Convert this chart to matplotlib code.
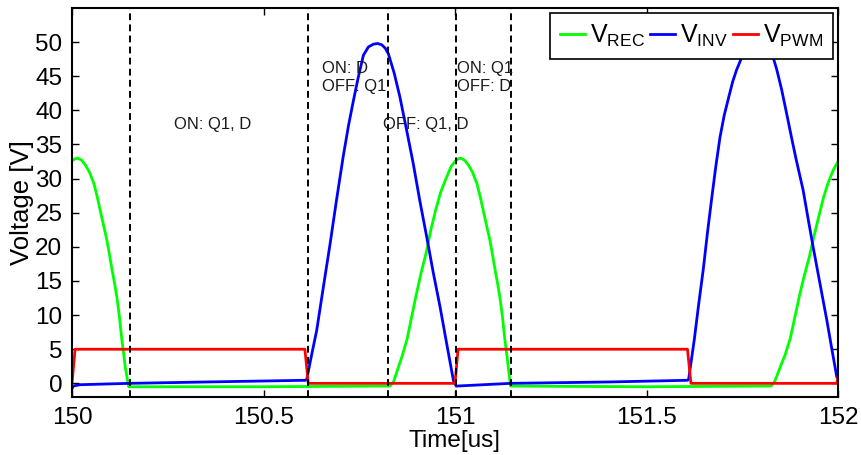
import matplotlib
matplotlib.use('Agg')
import matplotlib.pyplot as plt

plt.rcParams['font.family'] = ['Liberation Sans', 'DejaVu Sans']
plt.rcParams['mathtext.fontset'] = 'custom'
plt.rcParams['mathtext.rm'] = 'Liberation Sans'

# rectified voltage (green)
t_rec = [150.0, 150.008, 150.015, 150.025, 150.035, 150.046, 150.057, 150.066, 150.075, 150.083,
         150.091, 150.098, 150.105, 150.111, 150.117, 150.124, 150.13, 150.135, 150.139, 150.148,
         150.5, 150.8, 150.83, 150.84, 150.85, 150.862, 150.875, 150.887, 150.9, 150.912, 150.925,
         150.937, 150.95, 150.962, 150.975, 150.99, 151.0, 151.008, 151.015, 151.025, 151.035,
         151.046, 151.057, 151.066, 151.075, 151.083, 151.091, 151.098, 151.105, 151.111, 151.117,
         151.124, 151.13, 151.135, 151.139, 151.145,
         151.5, 151.8, 151.825, 151.835, 151.85, 151.862, 151.875, 151.887, 151.9, 151.912,
         151.925, 151.937, 151.95, 151.962, 151.975, 151.988, 152.0]
v_rec = [32.6, 32.9, 33.0, 32.7, 32.0, 30.9, 29.3, 27.3, 25.0, 23.0,
         21.0, 18.8, 16.5, 14.7, 12.7, 9.7, 6.5, 4.3, 2.4, -0.5,
         -0.5, -0.4, -0.4, 0.3, 2.0, 4.0, 6.5, 9.8, 13.3, 16.3, 19.2,
         22.5, 25.5, 27.9, 29.8, 31.8, 32.5, 32.9, 33.0, 32.7, 32.0,
         30.9, 29.3, 27.3, 25.0, 23.0, 21.0, 18.8, 16.5, 14.7, 12.7,
         9.7, 6.5, 4.3, 2.4, -0.4,
         -0.5, -0.4, -0.4, 0.3, 2.5, 4.2, 6.5, 9.6, 13.0, 15.8,
         18.5, 21.5, 24.5, 27.2, 29.5, 31.3, 32.5]

# inverter voltage (blue)
t_inv = [150.0, 150.003, 150.02, 150.15, 150.4, 150.61, 150.613, 150.625, 150.639, 150.656, 150.674,
         150.691, 150.708, 150.722, 150.735, 150.748, 150.761, 150.774, 150.787, 150.798, 150.809,
         150.818, 150.826, 150.841, 150.856, 150.873, 150.891, 150.908, 150.926, 150.943, 150.961,
         150.978, 150.996, 151.003,
         151.145, 151.4, 151.607, 151.61, 151.625, 151.636, 151.648, 151.659, 151.67, 151.681,
         151.692, 151.703, 151.715, 151.725, 151.735, 151.746, 151.757, 151.768, 151.78, 151.79,
         151.80, 151.81, 151.82, 151.83, 151.84, 151.853, 151.866, 151.878, 151.89, 151.909,
         151.922, 151.935, 151.945, 151.955, 151.963, 151.971, 151.984, 151.997, 152.0]
v_inv = [-0.8, -0.4, -0.2, 0.0, 0.25, 0.45, 0.6, 4.0, 7.8, 14.0, 20.5,
         27.0, 33.2, 37.8, 41.5, 45.0, 48.1, 49.3, 49.7, 49.8, 49.6,
         49.1, 48.3, 45.5, 42.0, 37.3, 32.2, 26.8, 21.5, 16.3, 11.2,
         5.9, 0.4, -0.4,
         0.0, 0.2, 0.45, 0.6, 6.5, 11.5, 16.6, 22.0, 27.0, 31.8,
         36.1, 39.3, 42.0, 44.2, 45.9, 47.4, 48.5, 49.5, 50.2, 50.5,
         50.4, 50.0, 49.2, 47.9, 46.0, 43.0, 39.5, 36.2, 33.0, 28.3,
         24.1, 20.0, 17.0, 14.0, 11.6, 9.2, 5.0, 0.9, 0.8]

# PWM signal (red)
t_pwm = [150.0, 150.008, 150.608, 150.617, 151.0, 151.008, 151.607, 151.616, 151.997, 152.0]
v_pwm = [0.0, 5.0, 5.0, 0.0, 0.0, 5.0, 5.0, 0.0, 0.0, 1.0]

# switching instants
t_switch = [150.151, 150.616, 150.824, 151.003, 151.146]

notes = ['ON: Q1, D', 'ON: D\nOFF: Q1', 'OFF: Q1, D', 'ON: Q1\nOFF: D']
note_t = [150.266, 150.653, 150.811, 151.004]
note_v = [37.9, 44.8, 38.0, 44.8]

fig = plt.figure(figsize=(8.62, 4.55), dpi=100)
ax = fig.add_axes([72 / 862, 58 / 455, 766 / 862, 389 / 455])

ax.plot(t_rec, v_rec, color='#00ff00', lw=2, label=r'V$_{\mathrm{REC}}$')
ax.plot(t_inv, v_inv, color='#0000ff', lw=2, label=r'V$_{\mathrm{INV}}$')
ax.plot(t_pwm, v_pwm, color='#ff0000', lw=2, label=r'V$_{\mathrm{PWM}}$')

for ts in t_switch:
    ax.axvline(ts, color='black', lw=1.4, dashes=(3.5, 2.2), zorder=5)

for txt, x, y in zip(notes, note_t, note_v):
    ax.text(x, y, txt, fontsize=12, ha='left', va='center', color='#1a1a1a', zorder=6)

ax.set_xlim(150, 152)
ax.set_ylim(-2, 55)
ax.set_xticks([150, 150.5, 151, 151.5, 152])
ax.set_xticklabels(['150', '150.5', '151', '151.5', '152'])
ax.set_yticks(range(0, 51, 5))
ax.tick_params(direction='in', length=5, width=1, top=True, right=True, labelsize=17.5, pad=7)
for s in ax.spines.values():
    s.set_linewidth(1.5)

ax.set_xlabel('Time[us]', fontsize=17.5, labelpad=1)
ax.set_ylabel('Voltage [V]', fontsize=18.5, labelpad=1)

leg = ax.legend(loc='upper right', ncol=3, fontsize=18, frameon=True, fancybox=False,
                edgecolor='black', handlelength=1.0, handletextpad=0.2, columnspacing=0.2,
                borderpad=0.4, borderaxespad=0.2, framealpha=1)
leg.get_frame().set_linewidth(1.2)

fig.savefig('out.png', dpi=100)
